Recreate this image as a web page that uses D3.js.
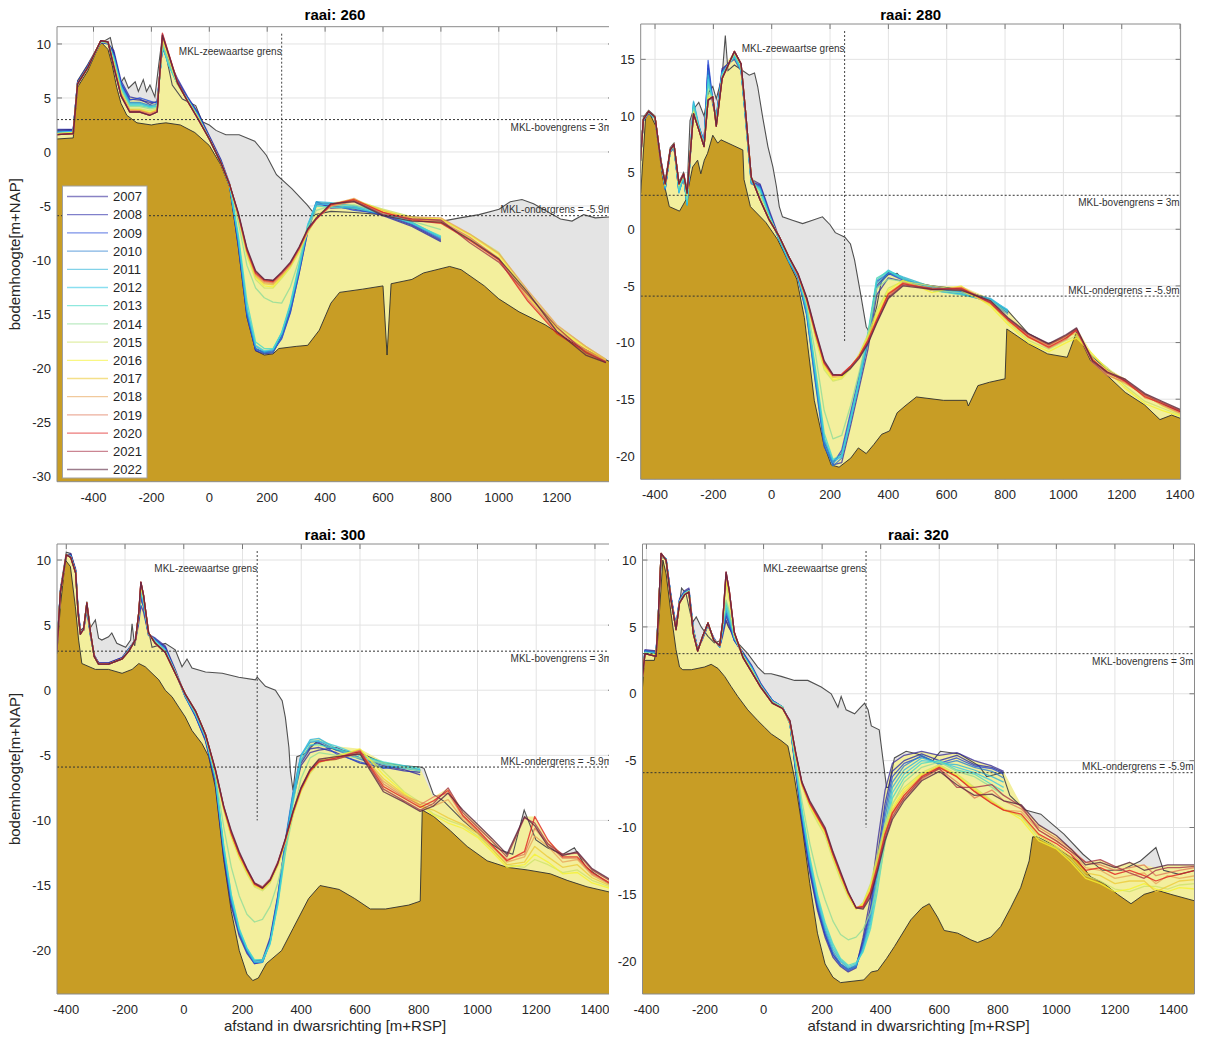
<!DOCTYPE html>
<html><head><meta charset="utf-8">
<script src="https://cdn.jsdelivr.net/npm/d3@7"></script>
<style>body{margin:0;background:#fff}text{font-family:"Liberation Sans",Arial,Helvetica,sans-serif}</style>
</head><body>
<svg id="c" width="1208" height="1048"></svg>
<script>
const N = null;
const years = [2007,2008,2009,2010,2011,2012,2013,2014,2015,2016,2017,2018,2019,2020,2021,2022];
const yearColors = ['#3b2e9c','#2c2ca8','#2347d8','#2b7fcf','#2fb4d8','#3cc9e6','#45d8c8','#8fdc9a','#cde26a','#f5f230','#eccb3a','#e8a55a','#e07a5a','#e02020','#a8344a','#5a2440'];
const xTicks = [-400,-200,0,200,400,600,800,1000,1200,1400];
const yTicks260 = [-30,-25,-20,-15,-10,-5,0,5,10];
const yTicks280 = [-20,-15,-10,-5,0,5,10,15];
const yTicks300 = [-20,-15,-10,-5,0,5,10];
const yTicks320 = [-20,-15,-10,-5,0,5,10];
const mklTop = 3, mklBottom = -5.9;

// ---------- raai 260 ----------
const raai260X = [-527,-470,-455,-420,-375,-350,-330,-305,-275,-240,-205,-180,-162,-140,-110,-75,-40,0,40,70,100,130,160,190,220,250,280,310,340,370,420,500,600,700,800,900,1000,1100,1200,1300,1370];
const raai260Years = [
[1.9,2.0,6.4,7.9,10.2,10.1,9.2,6.3,4.9,4.8,4.6,4.6,9.8,8.3,6.6,5.0,3.6,1.4,-0.8,-3.0,-8.5,-15.0,-18.2,-18.6,-18.5,-17.2,-14.8,-11.3,-7.3,-4.8,-5.0,-5.3,-5.8,-6.8,-8.2,N,N,N,N,N,N],
[2.1,2.1,6.5,8.0,10.1,10.0,9.4,6.6,5.1,4.9,4.4,4.7,9.6,8.5,6.8,5.1,3.7,1.5,-0.7,-2.9,-8.2,-14.8,-18.4,-18.7,-18.6,-17.0,-14.5,-11.0,-7.0,-4.6,-5.2,-5.1,-5.9,-6.9,-8.3,N,N,N,N,N,N],
[1.9,2.0,6.4,7.9,10.2,10.0,9.0,6.4,4.8,5.0,4.7,4.5,9.7,8.2,6.5,5.0,3.5,1.3,-0.9,-3.1,-8.6,-15.2,-18.3,-18.5,-18.4,-17.3,-14.9,-11.2,-7.4,-4.9,-4.9,-5.4,-5.7,-6.7,-8.1,N,N,N,N,N,N],
[1.8,1.9,6.4,7.9,10.2,10.1,8.9,6.2,4.6,4.6,4.3,4.4,9.9,8.1,6.4,4.9,3.5,1.3,-0.9,-3.0,-8.3,-14.9,-18.2,-18.6,-18.5,-17.1,-14.6,-11.0,-7.1,-4.7,-4.8,-5.2,-5.8,-6.6,-8.0,N,N,N,N,N,N],
[1.8,1.9,6.3,7.8,10.2,10.1,8.8,6.1,4.5,4.5,4.2,4.3,9.8,8.0,6.3,4.9,3.4,1.2,-1.0,-3.1,-8.0,-14.6,-18.0,-18.5,-18.3,-16.8,-14.2,-10.6,-6.8,-4.6,-4.7,-5.0,-5.6,-6.5,-7.9,N,N,N,N,N,N],
[1.8,1.9,6.3,7.8,10.2,10.1,8.7,6.0,4.4,4.4,4.2,4.2,9.9,8.0,6.3,4.8,3.4,1.2,-1.0,-3.1,-7.9,-14.4,-17.9,-18.4,-18.3,-16.7,-14.0,-10.4,-6.7,-4.8,-4.9,-5.1,-5.6,-6.6,-7.9,N,N,N,N,N,N],
[1.7,1.8,6.3,7.8,10.2,10.1,8.6,5.9,4.3,4.3,4.1,4.2,10.0,8.1,6.3,4.8,3.3,1.2,-1.0,-3.0,-7.6,-13.8,-17.6,-18.2,-18.2,-16.8,-14.2,-10.8,-7.0,-5.0,-5.1,-5.2,-5.7,-6.6,-7.8,N,N,N,N,N,N],
[1.7,1.8,6.3,7.8,10.2,10.1,8.5,5.8,4.2,4.2,4.0,4.1,10.1,8.3,6.3,4.8,3.3,1.2,-1.0,-3.0,-6.5,-10.5,-12.6,-13.5,-13.9,-14.0,-12.5,-10.0,-7.0,-5.4,-5.0,-4.9,-5.6,-6.4,-7.2,N,N,N,N,N,N],
[1.7,1.8,6.3,7.8,10.3,10.1,8.3,5.6,4.0,4.0,3.8,4.0,10.3,8.6,6.3,4.8,3.2,1.2,-1.0,-3.0,-6.0,-9.6,-11.8,-12.6,-12.6,-11.7,-10.7,-9.3,-7.5,-6.1,-5.0,-4.5,-5.3,-6.0,-6.3,-7.6,-9.3,-13.0,-16.1,-18.0,-19.2],
[1.7,1.8,6.3,7.8,10.3,10.2,8.2,5.5,3.9,3.9,3.7,3.9,10.5,8.8,6.3,4.7,3.2,1.2,-1.0,-3.0,-5.9,-9.4,-11.6,-12.4,-12.5,-11.6,-10.6,-9.2,-7.4,-6.0,-4.9,-4.4,-5.5,-6.1,-6.2,-7.7,-9.5,-13.2,-16.3,-18.1,-19.3],
[1.6,1.7,6.3,7.8,10.3,10.2,8.1,5.4,3.9,3.9,3.6,3.9,10.6,8.9,6.4,4.7,3.2,1.2,-1.0,-3.0,-5.9,-9.3,-11.5,-12.2,-12.3,-11.5,-10.5,-9.1,-7.4,-6.1,-5.0,-4.5,-5.4,-6.2,-6.5,-8.0,-9.8,-13.4,-16.4,-18.3,-19.3],
[1.6,1.7,6.3,7.8,10.3,10.2,8.1,5.4,3.9,3.8,3.6,3.8,10.7,8.9,6.4,4.7,3.1,1.2,-1.0,-3.0,-5.8,-9.2,-11.4,-12.1,-12.2,-11.4,-10.5,-9.0,-7.3,-6.1,-4.9,-4.3,-5.7,-6.0,-6.1,-7.6,-9.4,-12.8,-16.0,-18.0,-19.2],
[1.6,1.7,6.3,7.8,10.3,10.2,8.0,5.3,3.8,3.8,3.5,3.8,10.8,9.0,6.4,4.7,3.1,1.2,-1.0,-3.0,-5.8,-9.2,-11.3,-12.0,-12.1,-11.3,-10.4,-9.0,-7.3,-6.2,-5.0,-4.6,-5.6,-6.2,-6.4,-7.9,-9.9,-13.6,-16.6,-18.3,-19.4],
[1.6,1.7,6.3,7.8,10.3,10.2,7.9,5.2,3.7,3.7,3.4,3.7,11.0,9.1,6.5,4.7,3.1,1.2,-1.0,-3.0,-5.7,-9.1,-11.2,-11.9,-12.0,-11.2,-10.3,-8.9,-7.2,-6.2,-4.9,-4.4,-5.6,-6.3,-6.6,-8.2,-10.0,-13.8,-16.8,-18.5,-19.5],
[1.6,1.7,6.3,7.8,10.3,10.2,7.9,5.2,3.7,3.7,3.4,3.7,10.9,9.0,6.4,4.7,3.1,1.2,-1.0,-3.0,-5.7,-9.0,-11.1,-11.8,-11.9,-11.2,-10.3,-8.9,-7.2,-6.2,-4.8,-4.5,-5.8,-6.2,-6.3,-8.4,-10.2,-13.2,-16.2,-18.6,-19.4],
[1.6,1.7,6.3,7.8,10.3,10.2,7.9,5.2,3.7,3.7,3.4,3.7,10.8,9.0,6.4,4.7,3.1,1.2,-1.0,-3.0,-5.6,-8.9,-11.0,-11.8,-11.9,-11.1,-10.2,-8.8,-7.1,-6.1,-4.8,-4.6,-5.9,-6.4,-6.5,-8.1,-9.9,-13.0,-16.6,-18.8,-19.5]
];
const raai260Ref = [[-527,2.0],[-470,2.1],[-455,6.6],[-420,8.1],[-380,10.0],[-342,10.6],[-330,9.2],[-323,8.4],[-306,6.4],[-294,6.9],[-279,5.9],[-256,6.5],[-245,5.6],[-228,6.7],[-217,5.6],[-205,6.2],[-188,5.1],[-175,8.0],[-163,10.5],[-150,9.0],[-128,6.2],[-93,4.9],[-47,4.3],[-24,2.8],[0,2.5],[23,2.0],[57,1.6],[103,1.6],[157,1.0],[197,-0.3],[232,-2.1],[285,-3.4],[338,-4.9],[365,-5.8],[420,-5.5],[500,-5.6],[600,-5.8],[700,-6.0],[806,-6.4],[866,-6.1],[932,-5.8],[1001,-5.3],[1040,-4.6],[1080,-4.4],[1120,-4.8],[1160,-5.4],[1213,-6.2],[1253,-6.4],[1293,-5.8],[1333,-6.1],[1390,-6.0]];
const raai260Base = [[-527,1.2],[-470,1.3],[-455,6.0],[-420,7.5],[-375,10.2],[-350,9.5],[-335,8.0],[-320,6.0],[-305,4.5],[-285,3.4],[-250,2.7],[-200,2.5],[-180,2.6],[-150,2.7],[-100,2.5],[-50,1.8],[0,0.6],[40,-1.2],[70,-3.2],[100,-8.8],[130,-15.3],[160,-18.4],[190,-18.8],[220,-18.7],[240,-18.2],[300,-18.0],[340,-17.9],[380,-16.5],[420,-14.0],[450,-13.0],[530,-12.7],[600,-12.4],[614,-18.8],[628,-12.2],[700,-11.8],[740,-11.2],[830,-10.6],[870,-10.9],[950,-12.4],[1000,-13.6],[1070,-14.8],[1160,-16.0],[1270,-17.9],[1390,-19.5]];

// ---------- raai 280 ----------
const raai280X = [-453,-440,-422,-400,-380,-365,-348,-335,-318,-302,-290,-268,-250,-232,-218,-202,-190,-170,-128,-105,-90,-70,-40,-10,25,60,90,120,150,180,210,240,270,300,330,360,400,450,550,650,750,810,880,950,1010,1045,1100,1150,1210,1280,1340,1400];
const raai280Years = [
[5.0,9.6,10.2,9.8,6.2,3.7,6.8,7.2,3.5,4.5, 2.4,10.6,9.1,7.8,14.2,11.0,9.9,14.2,15.0,14.0, 10.2,4.4,4.0,1.8,-0.7,-2.7,-4.1,-7.2,-12.8,-18.5, -20.8,-20.6,-17.4,-14.0,-10.6,-5.8,-4.3,-4.6,-5.0,-5.5, -6.2,-7.2,N,N,N,N,N,N,N,N, N,N],
[5.0,9.6,10.3,9.8,6.1,3.6,6.9,7.3,3.4,4.6, 2.3,10.8,9.0,7.6,14.5,11.2,9.8,14.0,15.3,14.2, 10.0,4.2,3.9,1.6,-0.8,-2.8,-4.2,-7.4,-13.2,-18.8, -20.5,-19.8,-16.6,-13.3,-9.8,-5.0,-3.8,-4.4,-5.2,-5.6, -6.3,-7.4,N,N,N,N,N,N,N,N, N,N],
[5.0,9.6,10.3,9.8,6.0,3.5,6.9,7.4,3.3,4.6, 2.2,11.0,8.9,7.5,14.9,11.4,9.6,13.8,15.4,14.3, 9.8,4.1,3.8,1.5,-0.9,-2.9,-4.3,-7.6,-13.6,-19.2, -20.7,-19.5,-16.2,-12.9,-9.4,-4.6,-3.9,-4.5,-5.4,-5.7, -6.4,-7.5,N,N,N,N,N,N,N,N, N,N],
[5.0,9.6,10.3,9.8,6.0,3.6,6.9,7.3,3.3,4.7, 2.2,11.2,9.1,7.7,14.0,11.3,9.7,13.9,15.2,14.1, 9.9,4.0,3.7,1.4,-0.9,-2.9,-4.2,-7.5,-13.4,-19.0, -20.9,-20.2,-17.0,-13.6,-10.0,-5.2,-3.9,-4.3,-5.3,-5.5, -6.2,-7.3,N,N,N,N,N,N,N,N, N,N],
[5.0,9.6,10.3,9.8,6.0,3.6,6.9,7.3,3.2,4.6, 2.1,11.3,9.2,7.6,13.6,11.3,9.8,13.8,15.2,14.0, 9.9,4.1,3.6,1.4,-0.9,-2.9,-4.2,-7.2,-12.9,-18.6, -20.6,-20.0,-16.8,-13.5,-9.6,-4.8,-3.7,-4.2,-5.1,-5.6, -6.1,-7.2,N,N,N,N,N,N,N,N, N,N],
[5.0,9.7,10.3,9.8,6.0,3.7,6.9,7.3,3.3,4.7, 2.2,11.1,9.0,7.5,13.2,11.4,9.6,13.7,15.3,14.1, 10.1,4.2,3.5,1.3,-0.8,-2.8,-4.1,-7.0,-12.6,-18.4, -20.4,-20.1,-16.9,-13.4,-9.3,-4.5,-3.6,-4.3,-5.2,-5.7, -6.2,-7.1,N,N,N,N,N,N,N,N, N,N],
[5.0,9.7,10.3,9.8,6.0,3.8,6.9,7.4,3.5,4.7, 2.4,10.9,9.0,7.4,12.8,11.5,9.5,13.6,15.4,14.2, 10.2,4.3,3.4,1.3,-0.8,-2.7,-4.0,-6.9,-12.3,-18.0, -20.3,-19.9,-16.7,-13.2,-9.1,-4.3,-3.7,-4.4,-5.4,-5.8, -6.3,-7.3,N,N,N,N,N,N,N,N, N,N],
[5.0,9.7,10.4,9.9,6.0,3.9,7.0,7.4,3.7,4.8, 2.7,10.6,8.9,7.4,12.2,11.6,9.3,13.5,15.5,14.4, 10.3,4.4,3.1,1.1,-0.7,-2.6,-4.0,-6.6,-11.0,-16.0, -18.5,-18.2,-15.6,-12.6,-9.3,-5.2,-4.4,-4.6,-5.4,-5.6, -6.3,-7.5,N,N,N,N,N,N,N,N, N,N],
[5.0,9.7,10.4,9.9,6.0,3.9,7.0,7.5,3.9,4.9, 3.0,10.4,8.8,7.4,11.8,11.6,9.2,13.4,15.6,14.5, 10.5,4.6,2.8,1.0,-0.6,-2.5,-4.0,-6.3,-9.6,-12.4, -13.4,-13.2,-12.3,-11.0,-9.3,-7.2,-5.2,-4.6,-5.0,-5.4, -6.6,-8.2,-9.8,-10.6,-9.8,-9.4,-11.2,-12.2,-13.8,-15.2, -15.8,-16.4],
[5.0,9.7,10.4,9.9,6.0,3.9,7.0,7.5,3.9,4.9, 3.1,10.3,8.8,7.3,11.6,11.6,9.1,13.3,15.6,14.5, 10.4,4.6,2.7,1.0,-0.6,-2.5,-4.0,-6.2,-9.4,-12.2, -13.3,-13.1,-12.2,-11.1,-9.5,-7.5,-5.4,-4.5,-5.6,-5.0, -6.8,-8.4,-10.0,-10.8,-10.0,-9.6,-11.0,-12.4,-14.0,-15.4, -16.0,-16.5],
[5.0,9.7,10.4,9.9,6.0,4.0,7.0,7.5,4.0,4.9, 3.2,10.2,8.8,7.3,11.5,11.7,9.1,13.3,15.7,14.6, 10.5,4.6,2.6,0.9,-0.6,-2.5,-4.0,-6.2,-9.3,-12.0, -13.1,-13.0,-12.2,-11.2,-9.6,-7.8,-5.6,-4.7,-5.2,-5.4, -6.6,-8.1,-9.6,-10.2,-9.4,-9.2,-11.4,-12.8,-13.6,-14.6, -15.6,-16.3],
[5.0,9.7,10.4,9.9,6.0,4.0,7.0,7.5,4.0,4.9, 3.2,10.2,8.8,7.3,11.4,11.7,9.1,13.3,15.7,14.6, 10.5,4.6,2.6,0.9,-0.6,-2.5,-4.0,-6.2,-9.2,-11.9, -13.0,-12.9,-12.1,-11.2,-9.8,-8.0,-5.8,-4.8,-5.4,-5.1, -6.4,-7.9,-9.4,-10.3,-9.5,-8.8,-11.6,-12.5,-13.2,-14.9, -15.3,-16.0],
[5.0,9.7,10.4,9.9,6.0,4.0,7.0,7.5,4.0,4.9, 3.2,10.2,8.8,7.3,11.4,11.7,9.1,13.3,15.7,14.6, 10.5,4.6,2.6,0.9,-0.6,-2.5,-4.0,-6.1,-9.1,-11.8, -12.9,-12.8,-12.1,-11.2,-9.9,-8.1,-5.9,-4.7,-5.3,-5.3, -6.5,-8.0,-9.5,-10.5,-9.7,-8.9,-11.8,-12.9,-13.5,-14.7, -15.5,-16.2],
[5.0,9.7,10.4,9.9,6.0,4.0,7.0,7.5,4.0,4.9, 3.2,10.2,8.8,7.3,11.4,11.7,9.1,13.3,15.7,14.6, 10.5,4.6,2.6,0.9,-0.6,-2.5,-4.0,-6.2,-9.2,-11.8, -12.9,-12.8,-12.1,-11.2,-9.8,-8.0,-5.7,-4.8,-5.3,-5.2, -6.5,-8.0,-9.5,-10.4,-9.6,-8.9,-11.5,-12.6,-13.4,-14.8, -15.4,-16.1],
[5.0,9.7,10.4,9.9,6.0,4.0,7.0,7.5,4.0,4.9, 3.2,10.2,8.8,7.3,11.4,11.7,9.1,13.3,15.7,14.6, 10.5,4.6,2.6,0.9,-0.6,-2.5,-3.9,-6.1,-9.0,-11.7, -12.9,-12.9,-12.2,-11.3,-10.0,-8.2,-6.0,-4.9,-5.2,-5.3, -6.4,-7.9,-9.3,-10.2,-9.4,-8.8,-11.7,-12.7,-13.3,-14.6, -15.3,-16.0],
[5.0,9.7,10.4,9.9,6.0,4.0,7.0,7.5,4.0,4.9, 3.2,10.2,8.8,7.3,11.4,11.7,9.1,13.3,15.7,14.6, 10.5,4.6,2.6,0.9,-0.6,-2.5,-3.9,-6.0,-8.9,-11.6, -12.8,-12.9,-12.3,-11.4,-10.1,-8.3,-6.1,-5.0,-5.3,-5.4, -6.3,-7.8,-9.2,-10.1,-9.3,-8.7,-11.6,-12.6,-13.2,-14.5, -15.2,-15.9]
];
const raai280Ref = [[-453,5.2],[-440,9.9],[-422,10.5],[-400,10.0],[-380,6.2],[-365,4.2],[-348,7.2],[-335,7.6],[-318,4.2],[-302,5.0],[-290,3.5],[-280,9.6],[-268,10.6],[-250,11.2],[-232,10.0],[-218,12.0],[-202,12.6],[-190,11.5],[-170,13.5],[-159,17.1],[-150,14.0],[-128,14.5],[-105,14.1],[-77,13.6],[-59,13.8],[-48,12.6],[-31,9.9],[-13,7.3],[4,5.5],[16,3.8],[26,2.0],[37,1.1],[71,0.8],[106,0.5],[140,0.8],[174,1.1],[200,0.4],[218,-0.3],[251,-0.7],[270,-1.3],[284,-2.7],[304,-5.6],[324,-8.6],[337,-9.2],[360,-6.8],[376,-4.6],[400,-4.0],[430,-3.9],[450,-4.5],[550,-5.0],[650,-5.3],[750,-6.2],[810,-7.2],[880,-9.2],[946,-10.1],[1013,-9.5],[1040,-8.9],[1093,-11.1],[1146,-12.3],[1212,-13.4],[1278,-14.6],[1345,-15.5],[1402,-16.1]];
const raai280Base = [[-453,3.0],[-449,3.2],[-432,10.0],[-420,10.3],[-397,9.1],[-374,4.6],[-351,2.0],[-316,1.6],[-294,2.6],[-271,5.5],[-254,6.1],[-243,4.9],[-231,6.1],[-220,6.7],[-202,8.3],[-185,7.6],[-174,7.9],[-99,7.0],[-95,4.4],[-73,2.0],[-20,0.6],[20,-0.9],[60,-3.0],[86,-4.4],[112,-7.8],[146,-15.1],[179,-19.0],[204,-20.8],[231,-21.0],[271,-20.2],[297,-19.3],[324,-19.8],[350,-19.0],[377,-18.1],[404,-17.8],[430,-16.2],[457,-15.6],[496,-14.8],[589,-15.1],[668,-15.1],[674,-15.6],[707,-13.8],[747,-13.5],[800,-13.2],[806,-8.8],[880,-10.1],[946,-11.0],[1013,-11.3],[1046,-9.0],[1093,-11.6],[1146,-12.8],[1212,-14.4],[1278,-15.5],[1331,-16.8],[1371,-16.4],[1402,-16.7]];

// ---------- raai 300 ----------
const raai300X = [-432,-420,-400,-385,-368,-360,-352,-341,-330,-318,-305,-290,-256,-210,-187,-164,-153,-146,-137,-120,-97,-63,-29,5,40,74,108,136,162,189,215,241,268,294,320,346,372,399,430,460,520,600,680,750,805,850,900,950,1000,1050,1100,1160,1195,1240,1290,1340,1390,1450];
const raai300Years = [
[3.2,7.6,10.3,10.5,9.3,6.3,4.6,4.6,6.2,4.2, 2.7,2.1,2.1,2.5,3.2,3.8,5.2,6.5,6.0,4.3, 4.0,3.4,1.6,-0.4,-2.0,-3.9,-7.2,-12.8,-16.6,-18.9, -20.2,-21.0,-20.9,-19.3,-16.2,-12.0,-8.4,-5.8,-4.8,-4.6, -4.4,-5.2,-5.8,-6.1,-6.5,N,N,N,N,N, N,N,N,N,N,N,N,N],
[3.2,7.6,10.3,10.4,9.2,6.2,4.5,4.6,6.3,4.3, 2.7,2.1,2.1,2.5,3.2,3.9,5.5,7.0,6.4,4.2, 3.9,3.3,1.5,-0.5,-2.0,-3.8,-7.0,-12.6,-16.4,-18.7, -20.0,-20.8,-20.7,-19.0,-15.8,-11.7,-8.2,-5.6,-4.5,-4.4, -4.8,-5.6,-5.9,-6.2,-6.3,N,N,N,N,N, N,N,N,N,N,N,N,N],
[3.1,7.6,10.4,10.3,9.1,6.1,4.5,4.7,6.4,4.4, 2.6,2.0,2.0,2.4,3.1,3.9,5.6,7.2,6.5,4.3, 3.9,3.2,1.4,-0.5,-2.0,-3.8,-6.9,-12.4,-16.2,-18.6, -20.1,-21.0,-20.8,-19.2,-15.9,-11.6,-8.0,-5.4,-4.3,-4.0, -4.9,-5.5,-6.0,-5.8,-6.2,N,N,N,N,N, N,N,N,N,N,N,N,N],
[3.1,7.6,10.4,10.3,9.1,6.1,4.4,4.7,6.5,4.4, 2.6,2.0,2.0,2.4,3.1,3.9,5.7,7.4,6.6,4.3, 3.8,3.1,1.4,-0.5,-1.9,-3.7,-6.9,-12.3,-16.2,-18.6, -20.0,-20.9,-20.9,-19.3,-16.0,-11.5,-7.8,-5.0,-4.0,-3.9, -4.6,-5.3,-5.9,-5.9,-6.1,N,N,N,N,N, N,N,N,N,N,N,N,N],
[3.1,7.5,10.4,10.3,9.1,6.1,4.4,4.7,6.5,4.4, 2.6,2.0,2.0,2.4,3.1,3.9,5.8,7.5,6.7,4.3, 3.8,3.1,1.4,-0.4,-1.8,-3.6,-6.8,-12.2,-16.0,-18.5, -19.9,-20.9,-20.9,-19.4,-16.2,-11.9,-8.0,-5.0,-3.8,-3.7, -4.5,-5.2,-5.7,-6.0,-6.2,N,N,N,N,N, N,N,N,N,N,N,N,N],
[3.1,7.5,10.4,10.3,9.1,6.1,4.4,4.7,6.5,4.4, 2.6,2.0,2.0,2.4,3.1,3.9,5.8,7.6,6.8,4.3, 3.8,3.1,1.4,-0.4,-1.8,-3.6,-6.7,-12.0,-15.8,-18.4, -19.8,-20.8,-20.8,-19.5,-16.4,-12.2,-8.3,-5.1,-3.9,-3.9, -4.3,-5.0,-5.6,-5.9,-6.1,N,N,N,N,N, N,N,N,N,N,N,N,N],
[3.0,7.5,10.4,10.2,9.0,6.0,4.4,4.7,6.6,4.4, 2.6,2.0,2.0,2.4,3.1,3.9,5.9,7.7,6.9,4.3, 3.7,3.0,1.4,-0.4,-1.8,-3.6,-6.7,-11.9,-15.7,-18.3, -19.8,-20.7,-20.7,-19.4,-16.5,-12.5,-8.7,-5.4,-4.2,-4.2, -4.5,-5.0,-5.5,-5.8,-6.0,N,N,N,N,N, N,N,N,N,N,N,N,N],
[3.0,7.5,10.4,10.2,9.0,6.0,4.3,4.7,6.6,4.5, 2.6,2.0,2.0,2.4,3.0,3.9,5.9,7.8,7.0,4.4, 3.7,3.0,1.4,-0.3,-1.7,-3.5,-6.5,-10.5,-13.6,-15.8, -17.2,-17.8,-17.6,-16.6,-14.8,-12.4,-9.6,-6.8,-5.2,-4.8, -5.0,-5.2,-5.6,-5.9,-6.2,N,N,N,N,N, N,N,N,N,N,N,N,N],
[3.0,7.5,10.4,10.2,9.0,6.0,4.3,4.7,6.7,4.5, 2.6,2.0,2.0,2.4,3.0,3.9,5.9,7.9,7.1,4.4, 3.6,2.9,1.3,-0.3,-1.6,-3.4,-6.3,-9.2,-11.3,-12.9, -14.1,-15.1,-15.4,-14.8,-13.5,-11.7,-9.6,-7.8,-6.4,-5.6, -5.0,-4.6,-6.2,-7.8,-8.6,-9.5,-10.0,-10.4,-11.2,-12.2, -13.4,-13.6,-13.0,-13.4,-14.0,-13.8,-14.6,-15.1],
[3.0,7.5,10.4,10.2,9.0,6.0,4.3,4.7,6.7,4.5, 2.6,2.0,2.0,2.4,3.0,3.9,6.0,8.0,7.2,4.4, 3.6,2.9,1.3,-0.3,-1.6,-3.4,-6.3,-9.1,-11.2,-12.8, -14.0,-15.0,-15.3,-14.7,-13.4,-11.6,-9.5,-7.7,-6.3,-5.4, -5.1,-4.5,-6.5,-7.9,-8.8,-9.6,-10.2,-10.6,-11.3,-12.4, -13.6,-13.4,-12.6,-13.2,-14.1,-14.0,-14.8,-15.2],
[3.0,7.5,10.4,10.2,9.0,6.0,4.3,4.7,6.7,4.5, 2.6,2.0,2.0,2.4,3.0,3.9,6.0,8.1,7.2,4.4, 3.6,2.9,1.3,-0.3,-1.6,-3.4,-6.2,-9.1,-11.1,-12.7, -13.9,-15.0,-15.3,-14.7,-13.4,-11.6,-9.5,-7.7,-6.3,-5.5, -5.3,-4.8,-6.8,-8.0,-8.9,-9.2,-9.8,-10.3,-11.0,-12.2, -13.4,-13.2,-12.0,-12.8,-13.6,-13.4,-14.4,-15.0],
[3.0,7.5,10.4,10.2,9.0,6.0,4.3,4.7,6.7,4.5, 2.6,2.0,2.0,2.4,3.0,3.9,6.0,8.2,7.3,4.4, 3.6,2.9,1.3,-0.3,-1.6,-3.4,-6.2,-9.0,-11.0,-12.6, -13.8,-14.9,-15.2,-14.6,-13.3,-11.5,-9.4,-7.6,-6.2,-5.5, -5.2,-4.9,-7.0,-8.1,-8.6,-8.9,-8.4,-9.9,-10.9,-12.0, -13.2,-12.8,-11.2,-12.0,-13.2,-13.0,-14.2,-14.9],
[3.0,7.5,10.4,10.2,9.0,6.0,4.3,4.7,6.7,4.5, 2.6,2.0,2.0,2.4,3.0,3.9,6.0,8.3,7.3,4.4, 3.6,2.9,1.3,-0.3,-1.6,-3.4,-6.2,-9.0,-11.0,-12.6, -13.8,-14.9,-15.2,-14.6,-13.3,-11.5,-9.4,-7.6,-6.2,-5.5, -5.2,-4.6,-7.2,-8.2,-8.8,-8.2,-7.9,-9.7,-10.8,-12.0, -13.0,-12.6,-10.6,-11.8,-12.9,-12.9,-14.1,-14.8],
[3.0,7.5,10.4,10.2,9.0,6.0,4.3,4.7,6.7,4.5, 2.6,2.0,2.0,2.4,3.0,3.9,6.0,8.3,7.3,4.4, 3.6,2.9,1.3,-0.3,-1.6,-3.4,-6.2,-9.0,-11.0,-12.6, -13.8,-14.9,-15.2,-14.6,-13.3,-11.5,-9.4,-7.6,-6.2,-5.5, -5.2,-4.7,-7.4,-8.3,-9.0,-8.5,-7.7,-9.6,-10.7,-11.9, -13.1,-12.4,-9.7,-11.5,-12.8,-12.8,-14.0,-14.8],
[3.0,7.5,10.4,10.2,9.0,6.0,4.3,4.7,6.7,4.5, 2.6,2.0,2.0,2.4,3.0,3.9,6.0,8.3,7.3,4.4, 3.6,2.9,1.3,-0.3,-1.6,-3.4,-6.1,-8.9,-10.9,-12.5, -13.7,-14.8,-15.1,-14.5,-13.2,-11.4,-9.3,-7.5,-6.1,-5.4, -5.3,-4.8,-7.6,-8.5,-9.2,-8.7,-7.5,-9.4,-10.5,-11.6, -12.8,-9.8,-10.2,-11.8,-12.6,-12.5,-13.8,-14.6],
[3.0,7.5,10.4,10.2,9.0,6.0,4.3,4.7,6.7,4.5, 2.6,2.0,2.0,2.4,3.0,3.9,6.0,8.3,7.3,4.4, 3.6,2.9,1.3,-0.3,-1.6,-3.4,-6.1,-8.9,-10.8,-12.4, -13.7,-14.8,-15.2,-14.6,-13.3,-11.4,-9.3,-7.5,-6.1,-5.3, -5.1,-4.9,-7.8,-8.6,-9.3,-8.9,-7.9,-9.2,-10.3,-11.4, -12.6,-9.7,-10.4,-12.0,-12.7,-12.4,-13.7,-14.5]
];
const raai300Ref = [[-432,3.3],[-420,7.8],[-400,10.6],[-385,10.5],[-368,9.2],[-360,6.2],[-352,4.6],[-341,4.8],[-330,6.8],[-318,4.8],[-301,5.4],[-290,4.0],[-279,3.85],[-256,4.1],[-245,4.4],[-228,3.6],[-198,3.3],[-181,3.85],[-176,5.1],[-167,3.4],[-153,6.0],[-146,8.3],[-137,7.3],[-120,4.6],[-108,3.3],[-63,3.6],[-29,3.1],[-6,1.8],[11,2.4],[28,1.7],[74,1.4],[131,1.3],[187,1.0],[244,0.8],[250,1.0],[278,0.3],[312,0.0],[335,-0.8],[346,-2.1],[358,-4.4],[363,-6.2],[372,-7.7],[385,-5.1],[410,-4.9],[450,-4.0],[520,-4.6],[600,-4.8],[680,-5.6],[750,-5.8],[805,-5.9],[818,-6.0],[850,-8.0],[884,-8.5],[950,-10.0],[1028,-11.5],[1081,-12.3],[1120,-12.6],[1159,-9.2],[1199,-11.5],[1238,-12.1],[1291,-12.6],[1330,-12.1],[1369,-13.6],[1450,-14.9]];
const raai300Base = [[-432,2.8],[-420,6.5],[-403,10.0],[-386,9.5],[-369,6.4],[-358,3.85],[-347,2.05],[-301,1.6],[-256,1.6],[-210,1.3],[-176,1.6],[-153,2.05],[-131,1.8],[-108,1.3],[-85,0.8],[-63,0.0],[-40,-0.5],[-17,-1.3],[5,-2.05],[28,-3.1],[62,-4.1],[85,-5.1],[108,-7.5],[136,-13.0],[162,-17.0],[189,-20.0],[215,-21.8],[235,-22.3],[254,-22.1],[281,-21.0],[333,-20.0],[372,-18.3],[425,-16.0],[464,-15.0],[529,-15.3],[582,-16.0],[635,-16.8],[687,-16.8],[766,-16.5],[805,-16.2],[812,-9.2],[851,-9.7],[908,-10.8],[965,-12.0],[1033,-13.1],[1101,-13.6],[1169,-13.8],[1248,-14.1],[1305,-14.6],[1373,-15.1],[1450,-15.5]];

// ---------- raai 320 ----------
const raai320X = [-415,-405,-367,-360,-350,-333,-316,-299,-287,-270,-255,-240,-225,-208,-190,-170,-150,-140,-128,-117,-100,-70,-40,-10,30,65,90,110,131,158,184,210,237,263,289,316,340,365,390,415,440,480,540,600,660,720,780,820,880,940,1000,1050,1100,1150,1200,1250,1300,1340,1380,1420,1475];
const raai320Years = [
[1.0,3.3,3.2,5.6,10.2,10.1,7.3,5.1,7.1,7.7, 7.9,4.9,3.3,4.1,5.1,4.2,3.5,4.3,5.5,5.0, 4.0,3.1,2.1,0.8,-0.5,-1.0,-2.2,-5.9,-9.6,-13.4, -16.2,-18.2,-19.7,-20.4,-20.8,-20.5,-18.2,-15.3,-11.0,-7.2, -5.2,-4.6,-4.3,-4.6,-4.4,-5.0,-5.4,-5.8,N,N, N,N,N,N,N,N,N,N,N,N, N],
[1.0,3.2,3.1,5.6,10.3,10.1,7.2,5.0,7.0,7.6, 7.8,4.8,3.3,4.2,5.2,4.1,3.5,4.5,5.8,5.2, 4.0,3.0,2.0,0.7,-0.5,-1.0,-2.2,-5.8,-9.4,-13.2, -16.0,-18.0,-19.5,-20.2,-20.6,-20.3,-18.5,-16.0,-12.0,-8.2, -5.8,-5.0,-4.5,-5.0,-4.6,-5.3,-5.5,-5.9,N,N, N,N,N,N,N,N,N,N,N,N, N],
[1.0,3.2,3.1,5.6,10.3,10.1,7.2,5.0,7.0,7.6, 7.7,4.8,3.3,4.2,5.2,4.1,3.5,4.6,6.0,5.3, 4.0,3.0,2.0,0.7,-0.5,-1.0,-2.2,-5.7,-9.2,-13.0, -15.8,-17.9,-19.5,-20.3,-20.7,-20.4,-18.7,-16.3,-12.5,-8.7, -6.2,-5.2,-4.7,-5.2,-4.8,-5.4,-5.6,-6.0,N,N, N,N,N,N,N,N,N,N,N,N, N],
[1.0,3.2,3.1,5.6,10.3,10.1,7.2,5.0,7.0,7.6, 7.7,4.8,3.3,4.2,5.2,4.1,3.5,4.6,6.2,5.4, 4.1,3.0,2.0,0.7,-0.5,-1.0,-2.2,-5.6,-9.1,-12.8, -15.6,-17.7,-19.3,-20.2,-20.6,-20.4,-18.9,-16.7,-13.0,-9.2, -6.6,-5.4,-4.6,-5.3,-5.0,-5.5,-5.8,-6.3,N,N, N,N,N,N,N,N,N,N,N,N, N],
[1.0,3.1,3.0,5.6,10.4,10.1,7.1,4.9,6.9,7.5, 7.7,4.7,3.3,4.2,5.2,4.1,3.5,4.8,6.4,5.6, 4.2,2.9,1.9,0.6,-0.6,-1.0,-2.2,-5.5,-8.9,-12.6, -15.4,-17.5,-19.1,-20.0,-20.5,-20.3,-19.1,-17.0,-13.5,-9.8, -7.0,-5.7,-4.8,-5.2,-5.3,-5.7,-6.2,-6.6,N,N, N,N,N,N,N,N,N,N,N,N, N],
[1.0,3.1,3.0,5.6,10.4,10.1,7.1,4.9,6.9,7.5, 7.7,4.7,3.3,4.2,5.2,4.1,3.5,4.9,6.6,5.8, 4.2,2.9,1.9,0.6,-0.6,-1.0,-2.2,-5.4,-8.8,-12.4, -15.2,-17.3,-18.9,-19.9,-20.4,-20.2,-19.2,-17.3,-14.0,-10.4, -7.4,-6.0,-5.0,-5.1,-5.5,-5.9,-6.5,-7.0,N,N, N,N,N,N,N,N,N,N,N,N, N],
[1.0,3.1,3.0,5.6,10.4,10.0,7.1,4.9,6.9,7.5, 7.7,4.7,3.2,4.3,5.3,4.0,3.6,5.0,6.8,6.0, 4.3,2.8,1.8,0.6,-0.6,-1.0,-2.2,-5.3,-8.6,-12.2, -15.0,-17.1,-18.7,-19.8,-20.3,-20.1,-19.3,-17.6,-14.6,-11.0, -7.8,-6.3,-5.2,-5.0,-5.7,-6.0,-6.8,-7.3,N,N, N,N,N,N,N,N,N,N,N,N, N],
[1.0,3.1,2.9,5.5,10.4,10.0,7.0,4.9,6.9,7.5, 7.7,4.6,3.2,4.3,5.3,4.0,3.6,5.1,7.0,6.2, 4.3,2.8,1.8,0.6,-0.6,-1.0,-2.2,-5.1,-8.0,-11.2, -13.6,-15.4,-17.0,-18.0,-18.4,-18.2,-17.6,-16.4,-14.2,-11.2, -8.3,-6.6,-5.5,-5.1,-5.8,-6.2,-7.0,-7.6,N,N, N,N,N,N,N,N,N,N,N,N, N],
[1.0,3.0,2.9,5.5,10.4,10.0,7.0,4.8,6.8,7.4, 7.6,4.6,3.2,4.3,5.3,4.0,3.6,5.1,8.2,7.0, 4.4,2.8,1.7,0.5,-0.7,-1.1,-2.1,-4.6,-6.9,-8.5, -9.6,-10.6,-12.4,-13.9,-15.2,-16.1,-15.6,-14.2,-12.0,-9.7, -8.2,-7.0,-5.9,-5.3,-6.0,-7.0,-8.0,-8.6,-9.2,-10.8, -11.5,-12.4,-13.6,-14.0,-14.6,-14.8,-14.4,-14.4,-14.6,-14.3, -14.2],
[1.0,3.0,2.9,5.5,10.4,10.0,7.0,4.8,6.8,7.4, 7.6,4.6,3.2,4.3,5.3,4.0,3.6,5.2,8.5,7.3, 4.5,2.8,1.7,0.5,-0.7,-1.1,-2.1,-4.6,-6.8,-8.4, -9.4,-10.4,-12.2,-13.7,-15.1,-16.1,-15.7,-14.4,-12.3,-10.0, -8.5,-7.2,-6.0,-5.4,-6.1,-7.1,-8.1,-8.6,-9.4,-11.0, -11.6,-12.6,-13.8,-14.2,-14.8,-14.6,-14.2,-14.6,-14.8,-14.5, -14.6],
[1.0,3.0,2.8,5.5,10.5,10.0,7.0,4.8,6.8,7.4, 7.6,4.5,3.2,4.3,5.3,4.0,3.6,5.2,8.7,7.5, 4.5,2.7,1.6,0.5,-0.7,-1.1,-2.1,-4.5,-6.8,-8.3, -9.3,-10.3,-12.1,-13.6,-15.0,-16.0,-15.8,-14.6,-12.5,-10.2, -8.7,-7.4,-6.1,-5.4,-6.2,-7.2,-8.1,-8.7,-9.1,-10.6, -11.4,-12.2,-13.4,-13.6,-14.2,-14.0,-14.0,-14.8,-14.4,-14.0, -13.9],
[1.0,3.0,2.8,5.5,10.5,10.0,7.0,4.8,6.8,7.4, 7.6,4.5,3.2,4.3,5.3,4.0,3.6,5.3,8.9,7.6, 4.6,2.7,1.6,0.5,-0.7,-1.1,-2.1,-4.5,-6.7,-8.2, -9.2,-10.2,-12.0,-13.5,-14.9,-16.0,-15.9,-14.8,-12.8,-10.5, -8.9,-7.6,-6.2,-5.5,-6.2,-7.3,-8.2,-8.7,-8.8,-10.2, -11.0,-11.8,-13.0,-13.2,-13.8,-13.6,-13.4,-14.2,-13.6,-13.8, -13.6],
[1.0,3.0,2.8,5.5,10.5,10.0,7.0,4.8,6.8,7.4, 7.6,4.5,3.2,4.3,5.3,4.0,3.6,5.3,9.0,7.7, 4.6,2.7,1.6,0.5,-0.7,-1.1,-2.1,-4.5,-6.7,-8.2, -9.2,-10.2,-12.0,-13.5,-14.9,-16.0,-15.9,-14.8,-12.8,-10.5, -9.0,-7.8,-6.4,-5.6,-6.6,-7.8,-7.2,-8.0,-8.6,-10.0, -10.8,-11.6,-12.6,-12.8,-13.2,-13.0,-12.8,-13.6,-13.4,-13.2, -13.0],
[1.0,3.0,2.8,5.5,10.5,10.0,7.0,4.8,6.8,7.4, 7.6,4.5,3.2,4.3,5.3,4.0,3.6,5.3,9.1,7.7, 4.6,2.7,1.6,0.5,-0.7,-1.1,-2.1,-4.5,-6.7,-8.2, -9.2,-10.2,-12.0,-13.5,-14.9,-16.0,-15.9,-14.8,-12.8,-10.5, -8.9,-7.6,-6.2,-5.5,-6.2,-7.3,-8.2,-8.7,-9.0,-10.5, -11.2,-12.0,-13.2,-13.0,-13.5,-13.2,-13.6,-14.0,-13.7,-13.5, -13.2],
[1.0,3.0,2.8,5.5,10.5,10.0,7.0,4.8,6.8,7.4, 7.6,4.5,3.2,4.3,5.3,4.0,3.6,5.3,9.1,7.7, 4.6,2.7,1.6,0.5,-0.7,-1.1,-2.0,-4.4,-6.6,-8.1, -9.1,-10.1,-11.9,-13.4,-14.9,-16.0,-16.0,-15.0,-13.0,-10.8, -9.2,-7.8,-6.3,-5.6,-7.0,-7.0,-6.8,-7.6,-8.4,-10.2, -11.0,-11.8,-12.6,-12.4,-12.9,-13.4,-13.8,-13.2,-13.0,-13.0, -12.9],
[1.0,3.0,2.8,5.5,10.5,10.0,7.0,4.8,6.8,7.4, 7.6,4.5,3.2,4.3,5.3,4.0,3.6,5.3,9.1,7.7, 4.6,2.7,1.6,0.5,-0.7,-1.1,-2.0,-4.4,-6.6,-8.0, -9.0,-10.0,-11.8,-13.3,-14.8,-16.0,-16.1,-15.2,-13.2,-11.0, -9.4,-8.0,-6.5,-5.8,-6.8,-7.6,-7.5,-8.0,-8.3,-9.8, -10.6,-11.6,-12.8,-12.6,-13.0,-12.6,-13.2,-13.0,-12.8,-12.8, -12.8]
];
const raai320Ref = [[-415,1.2],[-405,3.2],[-367,3.2],[-360,5.6],[-350,10.4],[-333,10.0],[-316,7.2],[-299,5.0],[-287,6.8],[-280,7.9],[-265,7.5],[-250,6.0],[-240,5.4],[-230,5.75],[-213,5.0],[-190,4.3],[-168,3.8],[-145,4.0],[-133,5.7],[-120,5.0],[-100,4.3],[-88,3.8],[-54,3.0],[-20,2.0],[3,1.5],[26,1.5],[60,1.3],[106,1.0],[151,1.0],[197,0.5],[231,0.0],[254,-1.0],[265,-0.2],[282,-1.2],[311,-1.5],[328,-1.1],[345,-0.7],[357,-1.2],[368,-2.4],[395,-2.7],[420,-7.0],[427,-7.0],[447,-4.8],[487,-4.3],[526,-4.5],[578,-5.0],[604,-4.3],[670,-4.5],[736,-5.4],[762,-6.2],[815,-5.9],[841,-7.6],[894,-8.7],[947,-9.0],[973,-9.5],[1026,-10.5],[1091,-12.0],[1156,-13.2],[1222,-13.2],[1287,-12.5],[1340,-11.5],[1366,-13.2],[1419,-13.5],[1475,-13.2]];
const raai320Base = [[-415,0.0],[-407,2.5],[-373,2.5],[-362,4.0],[-344,10.0],[-333,9.0],[-316,6.0],[-299,3.3],[-287,2.0],[-276,1.8],[-247,1.8],[-202,2.0],[-179,2.2],[-156,1.9],[-133,1.3],[-111,0.55],[-88,-0.2],[-54,-1.2],[-20,-2.0],[3,-2.5],[26,-3.0],[60,-3.5],[83,-3.9],[105,-6.2],[131,-9.8],[158,-14.2],[184,-17.9],[210,-20.2],[237,-21.2],[263,-21.6],[302,-21.5],[342,-21.4],[368,-20.8],[390,-20.7],[420,-19.8],[447,-18.9],[503,-16.9],[541,-16.0],[566,-15.7],[594,-16.7],[617,-17.7],[663,-17.9],[708,-18.4],[731,-18.6],[776,-18.2],[810,-17.4],[844,-16.0],[878,-14.5],[907,-12.5],[919,-10.7],[935,-10.7],[980,-11.2],[1026,-11.9],[1073,-12.5],[1118,-13.7],[1164,-14.2],[1209,-15.0],[1255,-15.7],[1300,-15.0],[1346,-14.7],[1391,-15.0],[1475,-15.5]];

// ---------- layout (positions only) ----------
const panels = [
  {title:'raai: 260', xs:raai260X, ys:raai260Years, ref:raai260Ref, base:raai260Base, yTicks:yTicks260, grens:250,
   box:[57,613,26.7,481.7], xDom:[-526.1,1394.5], yDom:[-30.53,11.6], clipR:609, yLabel:true, xLabel:false, legend:true, titleY:20},
  {title:'raai: 280', xs:raai280X, ys:raai280Years, ref:raai280Ref, base:raai280Base, yTicks:yTicks280, grens:250,
   box:[640.7,1180.6,24,479.3], xDom:[-449.1,1401.8], yDom:[-22.07,18.12], clipR:null, yLabel:false, xLabel:false, legend:false, titleY:20},
  {title:'raai: 300', xs:raai300X, ys:raai300Years, ref:raai300Ref, base:raai300Base, yTicks:yTicks300, grens:250,
   box:[57,613,544,994], xDom:[-431.6,1461.4], yDom:[-23.33,11.23], clipR:609, yLabel:true, xLabel:true, legend:false, titleY:540},
  {title:'raai: 320', xs:raai320X, ys:raai320Years, ref:raai320Ref, base:raai320Base, yTicks:yTicks320, grens:350,
   box:[642.5,1194.5,544,994], xDom:[-413.5,1471.8], yDom:[-22.45,11.2], clipR:null, yLabel:false, xLabel:true, legend:false, titleY:540}
];

const GREY = '#e4e4e4', YELLOW = '#f3ef9d', BROWN = '#c89d25';
const AX = '#262626';
const svg = d3.select('#c');
const defs = svg.append('defs');

panels.forEach((p, pi) => {
  const [bx0, bx1, by0, by1] = p.box;
  const x = d3.scaleLinear().domain(p.xDom).range([bx0, bx1]);
  const y = d3.scaleLinear().domain(p.yDom).range([by1, by0]);
  const g = svg.append('g');
  if (p.clipR) {
    defs.append('clipPath').attr('id', 'col' + pi).append('rect')
      .attr('x', 0).attr('y', 0).attr('width', p.clipR).attr('height', 1048);
    g.attr('clip-path', `url(#col${pi})`);
  }
  defs.append('clipPath').attr('id', 'ax' + pi).append('rect')
    .attr('x', bx0).attr('y', by0).attr('width', bx1 - bx0).attr('height', by1 - by0);

  const xt = xTicks.filter(v => v >= p.xDom[0] && v <= p.xDom[1]);
  const yt = p.yTicks.filter(v => v >= p.yDom[0] && v <= p.yDom[1]);

  g.append('rect').attr('x', bx0).attr('y', by0).attr('width', bx1 - bx0).attr('height', by1 - by0).attr('fill', '#fff');

  const plot = g.append('g').attr('clip-path', `url(#ax${pi})`);
  plot.selectAll('.gx').data(xt).join('line').attr('x1', d => x(d)).attr('x2', d => x(d)).attr('y1', by0).attr('y2', by1)
    .attr('stroke', '#e3e3e3').attr('stroke-width', 1);
  plot.selectAll('.gy').data(yt).join('line').attr('y1', d => y(d)).attr('y2', d => y(d)).attr('x1', bx0).attr('x2', bx1)
    .attr('stroke', '#e3e3e3').attr('stroke-width', 1);
  xt.forEach(v => {
    plot.append('line').attr('x1', x(v)).attr('x2', x(v)).attr('y1', by0).attr('y2', by0 + 5).attr('stroke', '#777');
    plot.append('line').attr('x1', x(v)).attr('x2', x(v)).attr('y1', by1).attr('y2', by1 - 5).attr('stroke', '#777');
  });
  yt.forEach(v => {
    plot.append('line').attr('y1', y(v)).attr('y2', y(v)).attr('x1', bx0).attr('x2', bx0 + 5).attr('stroke', '#777');
    plot.append('line').attr('y1', y(v)).attr('y2', y(v)).attr('x1', bx1).attr('x2', bx1 - 5).attr('stroke', '#777');
  });

  const area = d3.area().x(d => x(d[0])).y0(by1).y1(d => y(d[1]));
  const line = d3.line().defined(d => d[1] != null).x(d => x(d[0])).y(d => y(d[1]));

  // upper envelope of all yearly profiles
  const env = p.xs.map((xv, i) => {
    let m = -Infinity;
    p.ys.forEach(a => { if (a[i] != null && a[i] > m) m = a[i]; });
    return m === -Infinity ? null : [xv, m];
  }).filter(d => d);

  plot.append('path').datum(p.ref).attr('d', area).attr('fill', GREY);
  plot.append('path').datum(env).attr('d', area).attr('fill', YELLOW);
  plot.append('path').datum(p.base).attr('d', area).attr('fill', BROWN);
  plot.append('path').datum(p.base).attr('d', line).attr('fill', 'none').attr('stroke', '#2e2e2e').attr('stroke-width', 0.9);
  plot.append('path').datum(p.ref).attr('d', line).attr('fill', 'none').attr('stroke', '#505050').attr('stroke-width', 1.1);

  p.ys.forEach((arr, k) => {
    plot.append('path').datum(p.xs.map((xv, i) => [xv, arr[i]])).attr('d', line)
      .attr('fill', 'none').attr('stroke', yearColors[k]).attr('stroke-width', 1.3).attr('stroke-opacity', 0.8)
      .attr('stroke-linejoin', 'round');
  });

  [mklTop, mklBottom].forEach(v => {
    plot.append('line').attr('x1', bx0).attr('x2', bx1).attr('y1', y(v)).attr('y2', y(v))
      .attr('stroke', '#333').attr('stroke-width', 1).attr('stroke-dasharray', '2,2');
  });
  plot.append('line').attr('x1', x(p.grens)).attr('x2', x(p.grens)).attr('y1', by0 + 7).attr('y2', y(-10))
    .attr('stroke', '#444').attr('stroke-width', 1).attr('stroke-dasharray', '2,2');

  plot.append('text').attr('x', x(p.grens)).attr('y', by0 + 28).attr('text-anchor', 'end')
    .attr('font-size', 10).attr('fill', '#333').text('MKL-zeewaartse grens');
  plot.append('text').attr('x', bx1 - 1).attr('y', y(mklTop) + 11).attr('text-anchor', 'end')
    .attr('font-size', 10).attr('fill', '#333').text('MKL-bovengrens = 3m');
  plot.append('text').attr('x', bx1 - 1).attr('y', y(mklBottom) - 2.5).attr('text-anchor', 'end')
    .attr('font-size', 10).attr('fill', '#333').text('MKL-ondergrens = -5.9m');

  g.append('line').attr('x1', bx0).attr('x2', bx1).attr('y1', by0).attr('y2', by0).attr('stroke', '#8a8a8a');
  g.append('line').attr('x1', bx0).attr('x2', bx1).attr('y1', by1).attr('y2', by1).attr('stroke', '#8a8a8a');
  g.append('line').attr('x1', bx0).attr('x2', bx0).attr('y1', by0).attr('y2', by1).attr('stroke', '#8a8a8a');
  g.append('line').attr('x1', bx1).attr('x2', bx1).attr('y1', by0).attr('y2', by1).attr('stroke', '#8a8a8a');

  g.selectAll('.xl').data(xt).join('text').attr('x', d => x(d)).attr('y', by1 + 20).attr('text-anchor', 'middle')
    .attr('font-size', 13).attr('fill', AX).text(d => d);
  g.selectAll('.yl').data(yt).join('text').attr('x', bx0 - 6).attr('y', d => y(d)).attr('dy', '0.36em')
    .attr('text-anchor', 'end').attr('font-size', 13).attr('fill', AX).text(d => d);

  g.append('text').attr('x', (bx0 + bx1) / 2).attr('y', p.titleY).attr('text-anchor', 'middle')
    .attr('font-size', 15).attr('font-weight', 'bold').attr('fill', '#000').text(p.title);

  if (p.yLabel) {
    g.append('text').attr('transform', `translate(20,${(by0 + by1) / 2}) rotate(-90)`).attr('text-anchor', 'middle')
      .attr('font-size', 15).attr('fill', AX).text('bodemhoogte[m+NAP]');
  }
  if (p.xLabel) {
    g.append('text').attr('x', (bx0 + bx1) / 2).attr('y', 1031).attr('text-anchor', 'middle')
      .attr('font-size', 15).attr('fill', AX).text('afstand in dwarsrichting [m+RSP]');
  }

  if (p.legend) {
    const lg = g.append('g');
    lg.append('rect').attr('x', 62.5).attr('y', 186).attr('width', 84.5).attr('height', 292)
      .attr('fill', '#fff').attr('stroke', '#a0a0a0').attr('stroke-width', 1);
    years.forEach((yr, k) => {
      const yy = 196.5 + k * 18.2;
      lg.append('line').attr('x1', 67).attr('x2', 108).attr('y1', yy).attr('y2', yy)
        .attr('stroke', yearColors[k]).attr('stroke-width', 1.3).attr('stroke-opacity', 0.6);
      lg.append('text').attr('x', 113).attr('y', yy).attr('dy', '0.36em').attr('font-size', 13)
        .attr('fill', AX).text(yr);
    });
  }
});
</script>
</body></html>
